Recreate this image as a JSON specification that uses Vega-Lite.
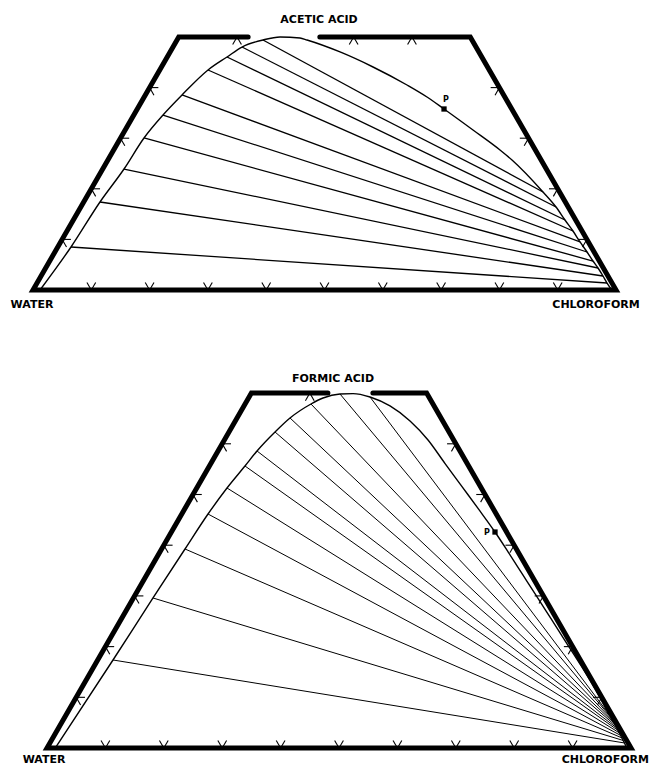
{
  "$schema": "https://vega.github.io/schema/vega-lite/v6.json",
  "padding": 0,
  "spacing": 0,
  "bounds": "flush",
  "background": "white",
  "config": {"view": {"stroke": null}},
  "datasets": {
    "border_top": [
      {"i": 0, "x": 36.9, "y": 50}, {"i": 1, "x": 25, "y": 50}, {"i": 2, "x": 0, "y": 0},
      {"i": 3, "x": 100, "y": 0}, {"i": 4, "x": 75, "y": 50}, {"i": 5, "x": 49.2, "y": 50}
    ],
    "border_bot": [
      {"i": 0, "x": 48.1, "y": 70}, {"i": 1, "x": 35, "y": 70}, {"i": 2, "x": 0, "y": 0},
      {"i": 3, "x": 100, "y": 0}, {"i": 4, "x": 65, "y": 70}, {"i": 5, "x": 55.8, "y": 70}
    ],
    "ticks_top": [
      {"x": 10, "y": 0, "x2": 9.25, "y2": 1.5}, {"x": 10, "y": 0, "x2": 10.75, "y2": 1.5},
      {"x": 20, "y": 0, "x2": 19.25, "y2": 1.5}, {"x": 20, "y": 0, "x2": 20.75, "y2": 1.5},
      {"x": 30, "y": 0, "x2": 29.25, "y2": 1.5}, {"x": 30, "y": 0, "x2": 30.75, "y2": 1.5},
      {"x": 40, "y": 0, "x2": 39.25, "y2": 1.5}, {"x": 40, "y": 0, "x2": 40.75, "y2": 1.5},
      {"x": 50, "y": 0, "x2": 49.25, "y2": 1.5}, {"x": 50, "y": 0, "x2": 50.75, "y2": 1.5},
      {"x": 60, "y": 0, "x2": 59.25, "y2": 1.5}, {"x": 60, "y": 0, "x2": 60.75, "y2": 1.5},
      {"x": 70, "y": 0, "x2": 69.25, "y2": 1.5}, {"x": 70, "y": 0, "x2": 70.75, "y2": 1.5},
      {"x": 80, "y": 0, "x2": 79.25, "y2": 1.5}, {"x": 80, "y": 0, "x2": 80.75, "y2": 1.5},
      {"x": 90, "y": 0, "x2": 89.25, "y2": 1.5}, {"x": 90, "y": 0, "x2": 90.75, "y2": 1.5},
      {"x": 5, "y": 10, "x2": 6.5, "y2": 10}, {"x": 5, "y": 10, "x2": 5.75, "y2": 8.5},
      {"x": 10, "y": 20, "x2": 11.5, "y2": 20}, {"x": 10, "y": 20, "x2": 10.75, "y2": 18.5},
      {"x": 15, "y": 30, "x2": 16.5, "y2": 30}, {"x": 15, "y": 30, "x2": 15.75, "y2": 28.5},
      {"x": 20, "y": 40, "x2": 21.5, "y2": 40}, {"x": 20, "y": 40, "x2": 20.75, "y2": 38.5},
      {"x": 95, "y": 10, "x2": 93.5, "y2": 10}, {"x": 95, "y": 10, "x2": 94.25, "y2": 8.5},
      {"x": 90, "y": 20, "x2": 88.5, "y2": 20}, {"x": 90, "y": 20, "x2": 89.25, "y2": 18.5},
      {"x": 85, "y": 30, "x2": 83.5, "y2": 30}, {"x": 85, "y": 30, "x2": 84.25, "y2": 28.5},
      {"x": 80, "y": 40, "x2": 78.5, "y2": 40}, {"x": 80, "y": 40, "x2": 79.25, "y2": 38.5},
      {"x": 35, "y": 50, "x2": 35.75, "y2": 48.5}, {"x": 35, "y": 50, "x2": 34.25, "y2": 48.5},
      {"x": 55, "y": 50, "x2": 55.75, "y2": 48.5}, {"x": 55, "y": 50, "x2": 54.25, "y2": 48.5},
      {"x": 65, "y": 50, "x2": 65.75, "y2": 48.5}, {"x": 65, "y": 50, "x2": 64.25, "y2": 48.5}
    ],
    "ticks_bot": [
      {"x": 10, "y": 0, "x2": 9.25, "y2": 1.5}, {"x": 10, "y": 0, "x2": 10.75, "y2": 1.5},
      {"x": 20, "y": 0, "x2": 19.25, "y2": 1.5}, {"x": 20, "y": 0, "x2": 20.75, "y2": 1.5},
      {"x": 30, "y": 0, "x2": 29.25, "y2": 1.5}, {"x": 30, "y": 0, "x2": 30.75, "y2": 1.5},
      {"x": 40, "y": 0, "x2": 39.25, "y2": 1.5}, {"x": 40, "y": 0, "x2": 40.75, "y2": 1.5},
      {"x": 50, "y": 0, "x2": 49.25, "y2": 1.5}, {"x": 50, "y": 0, "x2": 50.75, "y2": 1.5},
      {"x": 60, "y": 0, "x2": 59.25, "y2": 1.5}, {"x": 60, "y": 0, "x2": 60.75, "y2": 1.5},
      {"x": 70, "y": 0, "x2": 69.25, "y2": 1.5}, {"x": 70, "y": 0, "x2": 70.75, "y2": 1.5},
      {"x": 80, "y": 0, "x2": 79.25, "y2": 1.5}, {"x": 80, "y": 0, "x2": 80.75, "y2": 1.5},
      {"x": 90, "y": 0, "x2": 89.25, "y2": 1.5}, {"x": 90, "y": 0, "x2": 90.75, "y2": 1.5},
      {"x": 5, "y": 10, "x2": 6.5, "y2": 10}, {"x": 5, "y": 10, "x2": 5.75, "y2": 8.5},
      {"x": 10, "y": 20, "x2": 11.5, "y2": 20}, {"x": 10, "y": 20, "x2": 10.75, "y2": 18.5},
      {"x": 15, "y": 30, "x2": 16.5, "y2": 30}, {"x": 15, "y": 30, "x2": 15.75, "y2": 28.5},
      {"x": 20, "y": 40, "x2": 21.5, "y2": 40}, {"x": 20, "y": 40, "x2": 20.75, "y2": 38.5},
      {"x": 25, "y": 50, "x2": 26.5, "y2": 50}, {"x": 25, "y": 50, "x2": 25.75, "y2": 48.5},
      {"x": 30, "y": 60, "x2": 31.5, "y2": 60}, {"x": 30, "y": 60, "x2": 30.75, "y2": 58.5},
      {"x": 95, "y": 10, "x2": 93.5, "y2": 10}, {"x": 95, "y": 10, "x2": 94.25, "y2": 8.5},
      {"x": 90, "y": 20, "x2": 88.5, "y2": 20}, {"x": 90, "y": 20, "x2": 89.25, "y2": 18.5},
      {"x": 85, "y": 30, "x2": 83.5, "y2": 30}, {"x": 85, "y": 30, "x2": 84.25, "y2": 28.5},
      {"x": 80, "y": 40, "x2": 78.5, "y2": 40}, {"x": 80, "y": 40, "x2": 79.25, "y2": 38.5},
      {"x": 75, "y": 50, "x2": 73.5, "y2": 50}, {"x": 75, "y": 50, "x2": 74.25, "y2": 48.5},
      {"x": 70, "y": 60, "x2": 68.5, "y2": 60}, {"x": 70, "y": 60, "x2": 69.25, "y2": 58.5},
      {"x": 45, "y": 70, "x2": 45.75, "y2": 68.5}, {"x": 45, "y": 70, "x2": 44.25, "y2": 68.5}
    ],
    "curve_top": [
      {"x": 1.2, "y": 0}, {"x": 6.52, "y": 8.5}, {"x": 11.49, "y": 17.39}, {"x": 15.61, "y": 23.91},
      {"x": 19.04, "y": 30.04}, {"x": 22.3, "y": 34.58}, {"x": 25.56, "y": 38.54}, {"x": 30.02, "y": 43.48},
      {"x": 33.28, "y": 46.05}, {"x": 35.85, "y": 48.02}, {"x": 39.45, "y": 49.41}, {"x": 42.37, "y": 50.0},
      {"x": 45.8, "y": 49.8}, {"x": 47.0, "y": 49.4}, {"x": 52.66, "y": 47.04}, {"x": 58.32, "y": 44.07},
      {"x": 64.15, "y": 40.51}, {"x": 67.58, "y": 38.14}, {"x": 70.5, "y": 35.77}, {"x": 75.47, "y": 31.62},
      {"x": 80.1, "y": 27.67}, {"x": 82.16, "y": 25.69}, {"x": 87.48, "y": 19.37}, {"x": 89.71, "y": 16.4},
      {"x": 91.25, "y": 13.83}, {"x": 92.62, "y": 11.66}, {"x": 93.83, "y": 9.49}, {"x": 95.03, "y": 7.51},
      {"x": 96.05, "y": 5.73}, {"x": 96.91, "y": 4.35}, {"x": 97.77, "y": 2.77}, {"x": 98.46, "y": 1.38},
      {"x": 99.3, "y": 0}
    ],
    "curve_bot": [
      {"x": 1.4, "y": 0}, {"x": 11.3, "y": 17.36}, {"x": 18.15, "y": 29.59}, {"x": 23.63, "y": 39.25},
      {"x": 27.57, "y": 46.15}, {"x": 30.82, "y": 51.28}, {"x": 33.9, "y": 55.62}, {"x": 35.96, "y": 58.58},
      {"x": 39.04, "y": 62.33}, {"x": 41.61, "y": 65.09}, {"x": 45.2, "y": 67.85}, {"x": 47.26, "y": 69.03},
      {"x": 50.17, "y": 69.82}, {"x": 52.4, "y": 69.9}, {"x": 55.31, "y": 69.23}, {"x": 58.73, "y": 67.46},
      {"x": 62.16, "y": 64.5}, {"x": 65.24, "y": 60.75}, {"x": 68.1, "y": 56.2}, {"x": 71.0, "y": 51.65},
      {"x": 73.9, "y": 47.1}, {"x": 76.71, "y": 42.6}, {"x": 79.0, "y": 38.6}, {"x": 81.4, "y": 34.3},
      {"x": 83.8, "y": 30.0}, {"x": 86.3, "y": 25.5}, {"x": 88.8, "y": 21.0}, {"x": 91.3, "y": 16.5},
      {"x": 93.7, "y": 12.0}, {"x": 95.9, "y": 7.4}, {"x": 97.8, "y": 3.4}, {"x": 99.3, "y": 0}
    ],
    "tie_top": [
      {"x": 6.52, "y": 8.5, "x2": 98.46, "y2": 1.38},
      {"x": 11.49, "y": 17.39, "x2": 97.77, "y2": 2.77},
      {"x": 15.61, "y": 23.91, "x2": 96.91, "y2": 4.35},
      {"x": 19.04, "y": 30.04, "x2": 96.05, "y2": 5.73},
      {"x": 22.3, "y": 34.58, "x2": 95.03, "y2": 7.51},
      {"x": 25.56, "y": 38.54, "x2": 93.83, "y2": 9.49},
      {"x": 30.02, "y": 43.48, "x2": 92.62, "y2": 11.66},
      {"x": 33.28, "y": 46.05, "x2": 91.25, "y2": 13.83},
      {"x": 35.85, "y": 48.02, "x2": 89.71, "y2": 16.4},
      {"x": 39.45, "y": 49.41, "x2": 87.48, "y2": 19.37}
    ],
    "tie_bot": [
      {"x": 11.3, "y": 17.36, "x2": 98.86, "y2": 1.0},
      {"x": 18.15, "y": 29.59, "x2": 98.64, "y2": 1.5},
      {"x": 23.63, "y": 39.25, "x2": 98.42, "y2": 2.0},
      {"x": 27.57, "y": 46.15, "x2": 98.2, "y2": 2.5},
      {"x": 30.82, "y": 51.28, "x2": 97.98, "y2": 3.0},
      {"x": 33.9, "y": 55.62, "x2": 97.74, "y2": 3.5},
      {"x": 35.96, "y": 58.58, "x2": 97.5, "y2": 4.0},
      {"x": 39.04, "y": 62.33, "x2": 97.27, "y2": 4.5},
      {"x": 41.61, "y": 65.09, "x2": 97.04, "y2": 5.0},
      {"x": 45.2, "y": 67.85, "x2": 96.8, "y2": 5.5},
      {"x": 50.17, "y": 69.82, "x2": 96.57, "y2": 6.0},
      {"x": 55.31, "y": 69.23, "x2": 96.33, "y2": 6.5}
    ],
    "point_top": [{"x": 70.5, "y": 35.77}],
    "point_bot": [{"x": 76.71, "y": 42.6}],
    "plabel_top": [{"label": "P", "x": 70.84, "y": 37.55}],
    "plabel_bot": [{"label": "P", "x": 75.34, "y": 42.4}],
    "labels_top": [
      {"label": "WATER", "x": -0.17, "y": -2.96},
      {"label": "CHLOROFORM", "x": 96.57, "y": -2.96},
      {"label": "ACETIC ACID", "x": 49.06, "y": 53.36}
    ],
    "labels_bot": [
      {"label": "WATER", "x": -0.51, "y": -2.37},
      {"label": "CHLOROFORM", "x": 95.6, "y": -2.37},
      {"label": "FORMIC ACID", "x": 48.97, "y": 72.78}
    ]
  },
  "vconcat": [
    {
      "width": 650,
      "height": 340,
      "encoding": {
        "x": {"field": "x", "type": "quantitative", "scale": {"domain": [-5.66, 105.83], "nice": false, "zero": false}, "axis": null},
        "y": {"field": "y", "type": "quantitative", "scale": {"domain": [-9.88, 57.31], "nice": false, "zero": false}, "axis": null}
      },
      "layer": [
        {"data": {"name": "tie_top"}, "mark": {"type": "rule", "color": "black", "strokeWidth": 1.3},
         "encoding": {"x2": {"field": "x2"}, "y2": {"field": "y2"}}},
        {"data": {"name": "curve_top"}, "mark": {"type": "line", "color": "black", "strokeWidth": 1.4, "interpolate": "monotone"},
         "encoding": {}},
        {"data": {"name": "ticks_top"}, "mark": {"type": "rule", "color": "black", "strokeWidth": 1.1},
         "encoding": {"x2": {"field": "x2"}, "y2": {"field": "y2"}}},
        {"data": {"name": "border_top"}, "mark": {"type": "line", "color": "black", "strokeWidth": 5, "strokeJoin": "miter", "strokeCap": "round"},
         "encoding": {"order": {"field": "i", "type": "quantitative"}}},
        {"data": {"name": "point_top"}, "mark": {"type": "point", "shape": "square", "filled": true, "color": "black", "size": 28, "opacity": 1},
         "encoding": {}},
        {"data": {"name": "plabel_top"}, "mark": {"type": "text", "font": "DejaVu Sans", "fontWeight": "bold", "fontSize": 8, "align": "center", "baseline": "middle", "color": "black"},
         "encoding": {"text": {"field": "label"}}},
        {"data": {"name": "labels_top"}, "mark": {"type": "text", "font": "DejaVu Sans", "fontWeight": "bold", "fontSize": 11, "align": "center", "baseline": "middle", "color": "black"},
         "encoding": {"text": {"field": "label"}}}
      ]
    },
    {
      "width": 650,
      "height": 428,
      "encoding": {
        "x": {"field": "x", "type": "quantitative", "scale": {"domain": [-8.05, 103.25], "nice": false, "zero": false}, "axis": null},
        "y": {"field": "y", "type": "quantitative", "scale": {"domain": [-3.94, 80.47], "nice": false, "zero": false}, "axis": null}
      },
      "layer": [
        {"data": {"name": "tie_bot"}, "mark": {"type": "rule", "color": "black", "strokeWidth": 1},
         "encoding": {"x2": {"field": "x2"}, "y2": {"field": "y2"}}},
        {"data": {"name": "curve_bot"}, "mark": {"type": "line", "color": "black", "strokeWidth": 1.4, "interpolate": "monotone"},
         "encoding": {}},
        {"data": {"name": "ticks_bot"}, "mark": {"type": "rule", "color": "black", "strokeWidth": 1.1},
         "encoding": {"x2": {"field": "x2"}, "y2": {"field": "y2"}}},
        {"data": {"name": "border_bot"}, "mark": {"type": "line", "color": "black", "strokeWidth": 5, "strokeJoin": "miter", "strokeCap": "round"},
         "encoding": {"order": {"field": "i", "type": "quantitative"}}},
        {"data": {"name": "point_bot"}, "mark": {"type": "point", "shape": "square", "filled": true, "color": "black", "size": 28, "opacity": 1},
         "encoding": {}},
        {"data": {"name": "plabel_bot"}, "mark": {"type": "text", "font": "DejaVu Sans", "fontWeight": "bold", "fontSize": 8, "align": "center", "baseline": "middle", "color": "black"},
         "encoding": {"text": {"field": "label"}}},
        {"data": {"name": "labels_bot"}, "mark": {"type": "text", "font": "DejaVu Sans", "fontWeight": "bold", "fontSize": 11, "align": "center", "baseline": "middle", "color": "black"},
         "encoding": {"text": {"field": "label"}}}
      ]
    }
  ]
}
